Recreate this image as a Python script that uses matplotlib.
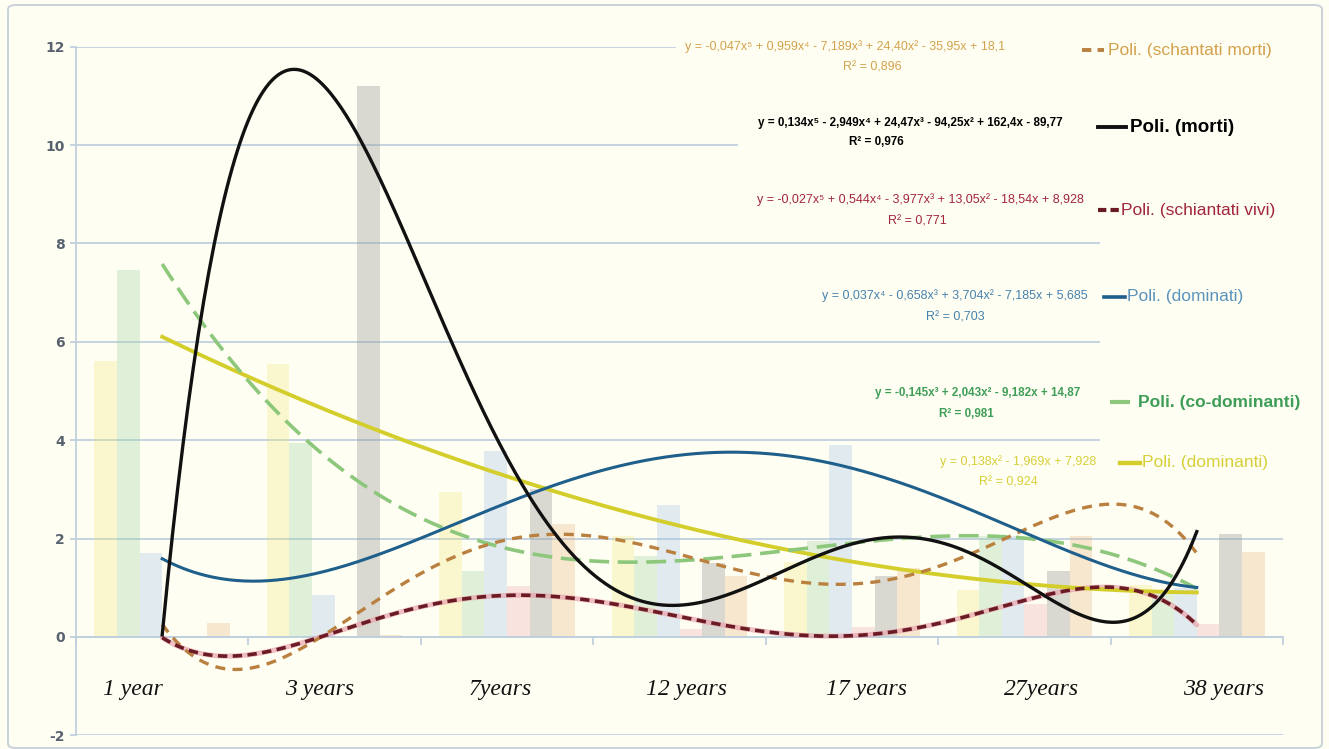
import numpy as np
import matplotlib
matplotlib.use("Agg")
import matplotlib.pyplot as plt
from matplotlib.lines import Line2D
from matplotlib.patches import Rectangle, FancyBboxPatch

plt.rcParams["axes.unicode_minus"] = False

# ---- data -------------------------------------------------------------
categories = ["1 year", "3 years", "7years", "12 years", "17 years", "27years", "38 years"]

dominanti = [5.6, 5.55, 2.95, 2.05, 1.53, 0.96, 1.05]
co_dominanti = [7.45, 3.95, 1.35, 1.65, 1.95, 2.05, 0.95]
dominati = [1.7, 0.85, 3.78, 2.68, 3.9, 2.05, 1.0]
schiantati_vivi = [0.0, 0.02, 1.03, 0.17, 0.21, 0.67, 0.26]
morti = [0.0, 11.2, 3.0, 1.5, 1.25, 1.35, 2.1]
schantati_morti = [0.28, 0.05, 2.3, 1.25, 1.4, 2.05, 1.72]

series_names = ["dominanti", "co-dominanti", "dominati", "schiantati vivi", "morti", "schantati morti"]
series_values = [dominanti, co_dominanti, dominati, schiantati_vivi, morti, schantati_morti]
trend_degree = [2, 3, 4, 5, 5, 5]

equations = {
    "schantati morti": ("y = -0,047x⁵ + 0,959x⁴ - 7,189x³ + 24,40x² - 35,95x + 18,1", "R² = 0,896"),
    "morti": ("y = 0,134x⁵ - 2,949x⁴ + 24,47x³ - 94,25x² + 162,4x - 89,77", "R² = 0,976"),
    "schiantati vivi": ("y = -0,027x⁵ + 0,544x⁴ - 3,977x³ + 13,05x² - 18,54x + 8,928", "R² = 0,771"),
    "dominati": ("y = 0,037x⁴ - 0,658x³ + 3,704x² - 7,185x + 5,685", "R² = 0,703"),
    "co-dominanti": ("y = -0,145x³ + 2,043x² - 9,182x + 14,87", "R² = 0,981"),
    "dominanti": ("y = 0,138x² - 1,969x + 7,928", "R² = 0,924"),
}

# ---- styling ------------------------------------------------------------
W, H = 1329, 749
BG = "#FFFEF2"
GRID = "#BFD0DE"
SANS = ["Liberation Sans", "DejaVu Sans"]

bar_colors = {
    "dominanti": (0.94, 0.90, 0.45, 0.28),
    "co-dominanti": (0.60, 0.82, 0.62, 0.30),
    "dominati": (0.62, 0.74, 0.90, 0.30),
    "schiantati vivi": (0.92, 0.62, 0.68, 0.28),
    "morti": (0.58, 0.58, 0.58, 0.34),
    "schantati morti": (0.90, 0.68, 0.46, 0.28),
}
line_style = {
    "dominanti": dict(color="#D3CE2C", lw=2.8, ls="-"),
    "co-dominanti": dict(color="#8DC77B", lw=2.6, ls=(0, (5.5, 2.4))),
    "dominati": dict(color="#1F5F8B", lw=2.2, ls="-"),
    "schiantati vivi": dict(color="#6A1B24", lw=2.6, ls=(0, (2.6, 1.5))),
    "morti": dict(color="#111111", lw=2.4, ls="-"),
    "schantati morti": dict(color="#B9803F", lw=2.4, ls=(0, (3.0, 2.2))),
}
legend_ls = {
    "schantati morti": (0, (2.4, 1.6)),
    "schiantati vivi": (0, (2.0, 1.0)),
}
text_color = {
    "schantati morti": "#D2A24C",
    "morti": "#000000",
    "schiantati vivi": "#A2263C",
    "dominati": "#4682AE",
    "co-dominanti": "#3E9E58",
    "dominanti": "#D6CF3A",
}


def fx(x):
    return x / W


def fy(y):
    return 1 - y / H


fig = plt.figure(figsize=(W / 100, H / 100), dpi=100, facecolor=BG)

# outer chart frame
fig.add_artist(FancyBboxPatch((fx(8), fy(748)), fx(1314), 743 / H,
                              boxstyle="round,pad=0,rounding_size=0.006",
                              transform=fig.transFigure, fill=False,
                              edgecolor="#C9D1DA", lw=1.4, zorder=0))

y12, ym2 = 46.6, 735.4
ax = fig.add_axes([fx(76), fy(ym2), fx(1283 - 76), (ym2 - y12) / H])
ax.set_facecolor(BG)
ax.set_xlim(0.5, 7.5)
ax.set_ylim(-2, 12)

x = np.arange(1, len(categories) + 1)
n = len(series_names)
w = 0.131
for i, (name, vals) in enumerate(zip(series_names, series_values)):
    ax.bar(x + (i - (n - 1) / 2) * w, vals, width=w, color=bar_colors[name],
           zorder=2, linewidth=0)

# polynomial trendlines fitted on each series
xs = np.linspace(1, len(categories), 400)
draw_order = ["dominanti", "co-dominanti", "schantati morti", "dominati", "schiantati vivi", "morti"]
for name in draw_order:
    i = series_names.index(name)
    coef = np.polyfit(x, series_values[i], trend_degree[i])
    ys = np.polyval(coef, xs)
    st = line_style[name]
    if name == "schiantati vivi":
        ax.plot(xs, ys, color="#E9A3AE", lw=3.6, solid_capstyle="round", zorder=4, alpha=0.7)
    ax.plot(xs, ys, color=st["color"], lw=st["lw"], linestyle=st["ls"], zorder=5)

# axes styling
ax.set_yticks(np.arange(-2, 13, 2))
ax.yaxis.grid(True, color=GRID, lw=1.3, zorder=1)
ax.set_axisbelow(True)
for s in ["top", "right"]:
    ax.spines[s].set_visible(False)
ax.spines["left"].set_color(GRID)
ax.spines["left"].set_linewidth(1.3)
ax.spines["bottom"].set_position(("data", 0))
ax.spines["bottom"].set_color(GRID)
ax.spines["bottom"].set_linewidth(1.3)
ax.set_xticks(np.arange(0.5, len(categories) + 1, 1.0))
ax.tick_params(axis="x", direction="out", length=6, width=1.3, color=GRID, labelbottom=False)
ax.tick_params(axis="y", direction="out", length=4, width=1.3, color=GRID, pad=4,
               labelsize=10, labelcolor="#58626F")
for lab in ax.get_yticklabels():
    lab.set_fontweight("bold")

# category captions
label_cx = [133, 320, 500, 687, 866, 1042, 1224]
for cx, cat in zip(label_cx, categories):
    fig.text(fx(cx), fy(690), cat, ha="center", va="center", fontsize=17,
             family=["Liberation Serif", "DejaVu Serif"], style="italic", color="#111111")

# opaque boxes behind equation texts and legend
for (x0, y0, x1, y1) in [(676, 28, 1100, 84), (738, 106, 1100, 160), (1100, 26, 1312, 492)]:
    fig.add_artist(Rectangle((fx(x0), fy(y1)), fx(x1 - x0), (y1 - y0) / H,
                             transform=fig.transFigure, facecolor=BG, edgecolor="none", zorder=1))

# equations with R^2
eq_pos = {
    "schantati morti": (845, 47, 872, 68),
    "morti": (910, 123, 876, 142),
    "schiantati vivi": (920, 200, 917, 222),
    "dominati": (955, 296, 955, 317),
    "co-dominanti": (978, 393, 966, 414),
    "dominanti": (1018, 462, 1008, 483),
}
for name, (cx, ye, cr, yr) in eq_pos.items():
    eq, r2 = equations[name]
    bold = name in ("morti", "co-dominanti")
    wt = "bold" if bold else "normal"
    fs = 8.4 if bold else 9
    fig.text(fx(cx), fy(ye), eq, ha="center", va="center", fontsize=fs,
             family=SANS, color=text_color[name], fontweight=wt, zorder=3)
    fig.text(fx(cr), fy(yr), r2, ha="center", va="center", fontsize=fs,
             family=SANS, color=text_color[name], fontweight=wt, zorder=3)

# legend entries for the trendlines
leg = [
    ("schantati morti", 50, 1082, 1104, 1108),
    ("morti", 127, 1098, 1126, 1130),
    ("schiantati vivi", 210, 1098, 1119, 1121),
    ("dominati", 297, 1104, 1125, 1127),
    ("co-dominanti", 402, 1110, 1130, 1138),
    ("dominanti", 463, 1120, 1140, 1142),
]
for name, yy, l0, l1, tx in leg:
    st = line_style[name]
    fig.add_artist(Line2D([fx(l0), fx(l1)], [fy(yy), fy(yy)], transform=fig.transFigure,
                          color=st["color"], lw=st["lw"] + 0.4,
                          linestyle=legend_ls.get(name, st["ls"]), zorder=3))
    bold = name in ("morti", "co-dominanti")
    wt = "bold" if bold else "normal"
    fig.text(fx(tx), fy(yy), f"Poli. ({name})", ha="left", va="center",
             fontsize=13.5 if name == "morti" else 12.5, family=SANS,
             color=text_color[name] if name != "dominati" else "#5B93BC",
             fontweight=wt, zorder=3)

fig.savefig("out.png", dpi=100, facecolor=BG)
